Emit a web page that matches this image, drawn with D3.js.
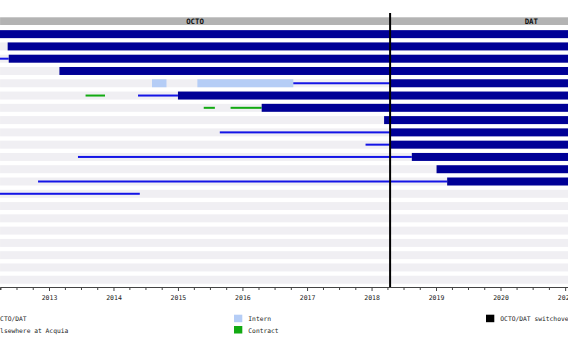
<!doctype html>
<html>
<head>
  <title>OCTO / DAT timeline</title>
  <meta charset="UTF-8">
  <script src="https://d3js.org/d3.v7.min.js"></script>
  <style>
    body { margin: 0; background: #fff; }
    text { font-family: "DejaVu Sans Mono", monospace; }
  </style>
</head>
<body>
  <div id="svg_area"></div>
</body>
</html>
<script>

// rows of the timeline (one per person), names not visible in the crop
var rows = d3.range(1, 22).map(function(d){ return "row" + d; });

// segments: row, kind, start, end
var segRow   = [0, 1, 2, 2, 3,
                4, 4, 4, 4,
                5, 5, 5,
                6, 6, 6,
                7,
                8, 8,
                9, 9,
                10, 10,
                11,
                12, 12,
                13];
var segKind  = ["octo", "octo", "else", "octo", "octo",
                "intern", "intern", "else", "octo",
                "contract", "else", "octo",
                "contract", "contract", "octo",
                "octo",
                "else", "octo",
                "else", "octo",
                "else", "octo",
                "octo",
                "else", "octo",
                "else"];
var segStart = ["2011-01-01", "2012-05-12", "2011-06-01", "2012-05-18", "2013-03-01",
                "2014-08-07", "2015-04-21", "2016-10-15", "2018-04-16",
                "2013-07-27", "2014-05-20", "2015-01-01",
                "2015-05-27", "2015-10-26", "2016-04-19",
                "2018-03-13",
                "2015-08-26", "2018-04-16",
                "2017-11-28", "2018-04-16",
                "2013-06-14", "2018-08-17",
                "2019-01-04",
                "2012-10-31", "2019-03-05",
                "2011-06-01"];
var segEnd   = ["2021-06-01", "2021-06-01", "2012-05-18", "2021-06-01", "2021-06-01",
                "2014-10-28", "2016-10-15", "2018-04-16", "2021-06-01",
                "2013-11-14", "2015-01-01", "2021-06-01",
                "2015-07-29", "2016-04-19", "2021-06-01",
                "2021-06-01",
                "2018-04-16", "2021-06-01",
                "2018-04-16", "2021-06-01",
                "2018-08-17", "2021-06-01",
                "2021-06-01",
                "2019-03-05", "2021-06-01",
                "2014-05-30"];

var switchover = "2018-04-16";
var chartStart = "2012-03-30";
var chartEnd   = "2022-08-15";
var sections   = ["OCTO", "DAT"];
var legendLabels = ["OCTO/DAT", "Elsewhere at Acquia", "Intern", "Contract", "OCTO/DAT switchover"];

var colours = {
  octo: "#000096",
  else: "#1414e6",
  intern: "#b5cdf6",
  contract: "#12aa12"
};

var parse = d3.timeParse("%Y-%m-%d");

var segments = segRow.map(function(r, i){
  return { row: rows[r], kind: segKind[i], start: parse(segStart[i]), end: parse(segEnd[i]) };
});

// x scale calibrated so years sit where they are in the picture
var xScale = d3.scaleTime()
  .domain([new Date(2013, 0, 1), new Date(2020, 0, 1)])
  .range([49, 500.5]);

// row bands
var yScale = d3.scaleBand()
  .domain(rows)
  .range([28, 28 + rows.length * 12.28])
  .paddingInner(0.35)
  .paddingOuter(0.175);

var x0 = xScale(parse(chartStart));
var x1 = xScale(parse(chartEnd));
var xs = xScale(parse(switchover));
var axisY = 287;

var svg = d3.select("#svg_area").append("svg")
  .attr("width", 568)
  .attr("height", 352);

// header band
svg.append("rect")
  .attr("x", x0).attr("y", 17.3)
  .attr("width", x1 - x0).attr("height", 7.7)
  .attr("fill", "#b3b3b3");

svg.selectAll(".section")
  .data(sections)
  .enter().append("text")
  .attr("x", function(d, i){ return i == 0 ? (x0 + xs) / 2 : (xs + x1) / 2 + 1.5; })
  .attr("y", 23.8)
  .attr("text-anchor", "middle")
  .attr("font-size", "7.4px")
  .attr("font-weight", "bold")
  .attr("fill", "#111")
  .text(function(d){ return d; });

// row background stripes
svg.selectAll(".stripe")
  .data(rows)
  .enter().append("rect")
  .attr("x", x0)
  .attr("y", function(d){ return yScale(d); })
  .attr("width", x1 - x0)
  .attr("height", yScale.bandwidth())
  .attr("fill", "#f0eff3");

// segments: thick bars for OCTO/DAT and intern, thin lines for the rest
function thick(k){ return k == "octo" || k == "intern"; }

svg.selectAll(".seg")
  .data(segments)
  .enter().append("rect")
  .attr("x", function(d){ return xScale(d.start); })
  .attr("width", function(d){ return xScale(d.end) - xScale(d.start); })
  .attr("y", function(d){
    return thick(d.kind) ? yScale(d.row) : yScale(d.row) + yScale.bandwidth() / 2 - 1;
  })
  .attr("height", function(d){ return thick(d.kind) ? yScale.bandwidth() : 2; })
  .attr("fill", function(d){ return colours[d.kind]; });

// x axis, quarterly ticks with year labels
var xAxis = d3.axisBottom(xScale)
  .ticks(d3.timeMonth.every(3))
  .tickSizeOuter(0)
  .tickSize(3)
  .tickFormat(function(d){ return d.getMonth() == 0 ? d3.timeFormat("%Y")(d) : ""; });

var gx = svg.append("g")
  .attr("transform", "translate(0," + axisY + ")")
  .call(xAxis.scale(xScale.copy().domain([parse(chartStart), parse(chartEnd)])
    .range([x0, x1])));

gx.select(".domain").attr("stroke", "#444");
gx.selectAll(".tick line")
  .attr("stroke", "#444")
  .attr("y2", function(d){ return d.getMonth() == 0 ? 4 : 3; });
gx.selectAll(".tick text")
  .attr("y", 8.2)
  .attr("font-size", "6.5px")
  .attr("font-family", "DejaVu Sans Mono")
  .attr("fill", "#222");

// switchover line
svg.append("line")
  .attr("x1", xs).attr("x2", xs)
  .attr("y1", 13).attr("y2", axisY)
  .attr("stroke", "#000")
  .attr("stroke-width", 2);

// legend
var legendX = [-18, -18, 234, 234, 486];
var legendY = [314.7, 326, 314.7, 326, 314.7];
var legendC = [colours.octo, colours.else, colours.intern, colours.contract, "#000"];

var leg = svg.selectAll(".legend")
  .data(legendLabels)
  .enter().append("g")
  .attr("transform", function(d, i){ return "translate(" + legendX[i] + "," + legendY[i] + ")"; });

leg.append("rect")
  .attr("width", 8.3).attr("height", 7.5)
  .attr("fill", function(d, i){ return legendC[i]; });

leg.append("text")
  .attr("x", 14.3)
  .attr("y", 6.6)
  .attr("font-size", "6.3px")
  .attr("fill", "#222")
  .text(function(d){ return d; });

</script>
